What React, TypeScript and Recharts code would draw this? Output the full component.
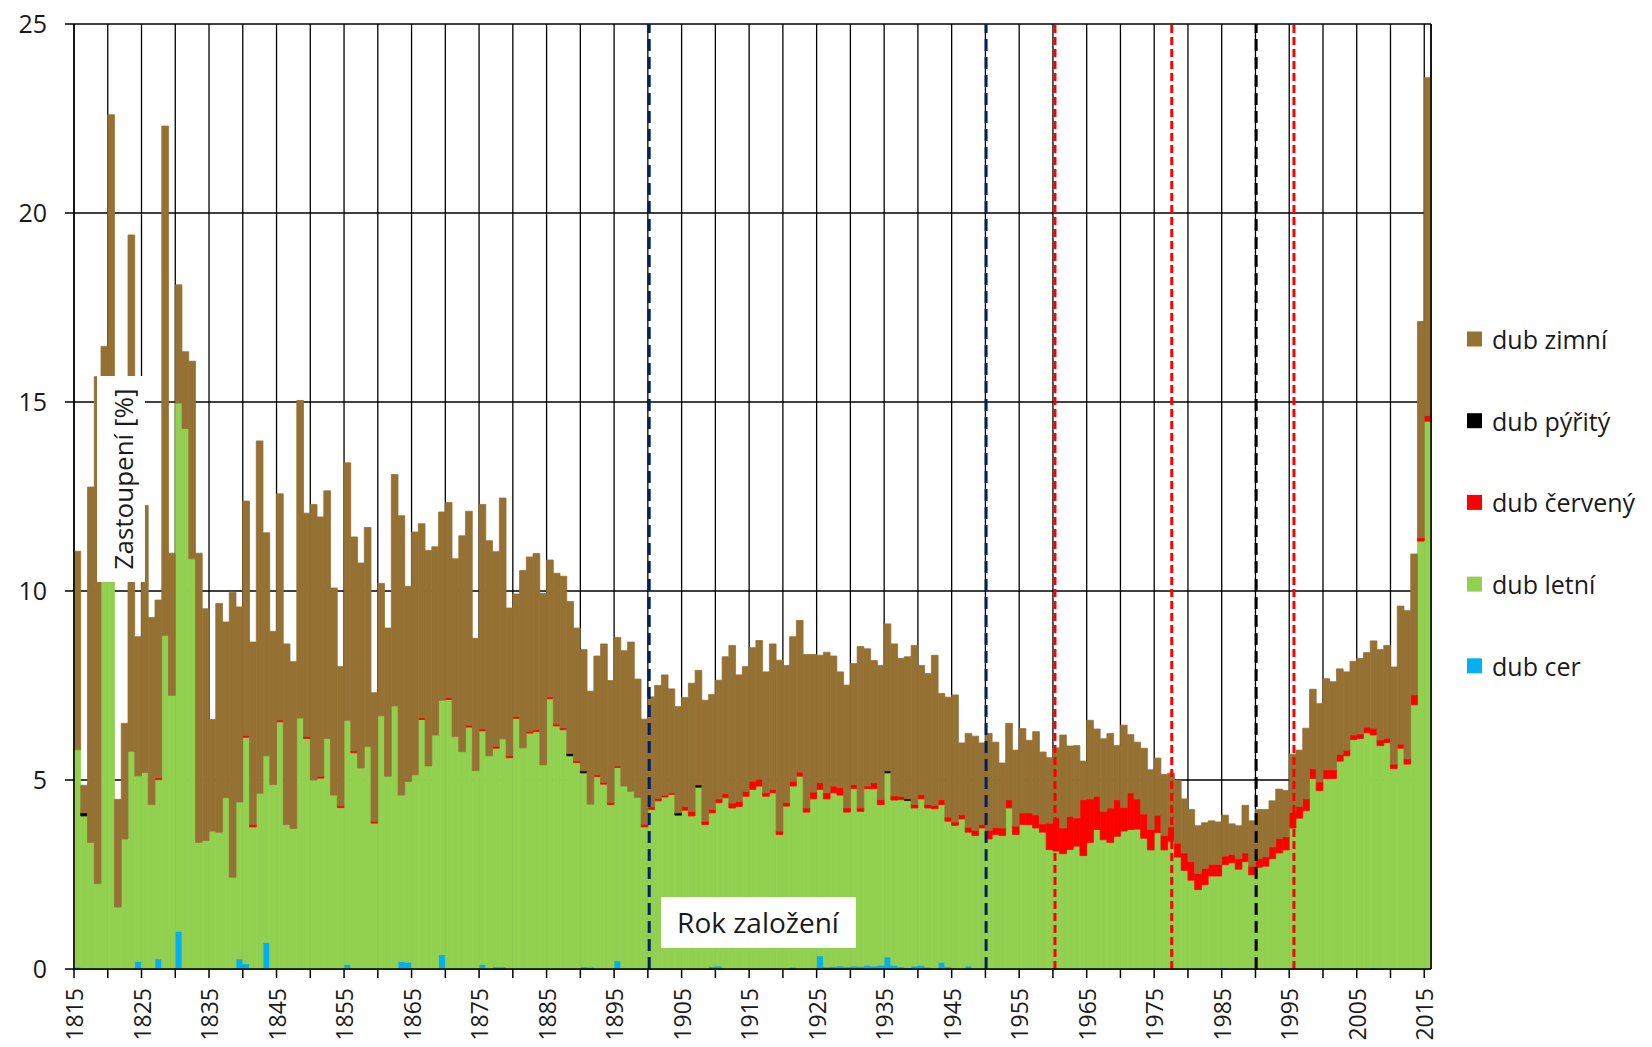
import { BarChart, Bar, XAxis, YAxis, CartesianGrid, ReferenceLine } from 'recharts'

// categories: one bar per year of founding
const firstYear = 1815
const lastYear = 2015
const years = Array.from({ length: lastYear - firstYear + 1 }, (_, i) => firstYear + i)

// dub letní [%], 1815..2015
const dubLetni = [
  5.75, 4.05, 3.35, 2.26, 10.25, 10.25, 1.64, 3.44, 5.76, 4.91,
  5.2, 4.35, 4.74, 8.82, 7.24, 13.97, 14.3, 10.85, 3.35, 3.4,
  3.65, 3.62, 4.53, 2.43, 4.15, 5.99, 3.76, 4.65, 4.94, 4.88,
  6.54, 3.82, 3.72, 6.64, 6.1, 5.0, 5.05, 6.1, 4.6, 4.27,
  6.46, 5.72, 5.32, 5.89, 3.86, 6.7, 5.1, 6.96, 4.4, 4.78,
  5.14, 6.6, 5.37, 6.19, 6.73, 7.13, 6.15, 5.75, 6.4, 5.25,
  6.18, 5.64, 5.78, 6.03, 5.59, 6.63, 5.85, 6.24, 6.28, 5.4,
  7.15, 6.43, 6.33, 5.64, 5.46, 5.13, 4.31, 5.09, 4.89, 4.35,
  5.11, 4.84, 4.7, 4.54, 3.76, 4.22, 4.45, 4.55, 4.62, 4.07,
  4.2, 4.05, 4.81, 3.82, 4.06, 4.32, 4.53, 4.26, 4.3, 4.57,
  4.75, 4.84, 4.57, 4.66, 3.56, 4.31, 4.79, 5.1, 4.15, 4.5,
  4.4, 4.44, 4.59, 4.52, 4.09, 4.69, 4.1, 4.67, 4.69, 4.25,
  4.87, 4.37, 4.42, 4.42, 4.18, 4.4, 4.21, 4.24, 4.17, 3.85,
  3.8, 3.97, 3.54, 3.53, 3.73, 3.44, 3.56, 3.53, 4.26, 3.56,
  3.82, 3.82, 3.73, 3.62, 3.16, 3.12, 3.05, 3.16, 3.25, 3.0,
  3.35, 3.69, 3.42, 3.35, 3.51, 3.65, 3.69, 3.7, 3.46, 3.15,
  3.61, 3.15, 3.38, 2.96, 2.61, 2.35, 2.1, 2.23, 2.46, 2.46,
  2.73, 2.81, 2.64, 2.84, 2.49, 2.69, 2.72, 2.92, 3.07, 3.15,
  3.73, 3.99, 4.19, 5.04, 4.72, 5.04, 5.04, 5.5, 5.64, 6.07,
  6.1, 6.25, 6.16, 5.91, 5.99, 5.3, 5.84, 5.42, 6.99, 11.32,
  14.49,
]

// dub zimní [%], 1815..2015
const dubZimni = [
  5.25, 0.73, 9.4, 13.41, 6.22, 12.35, 2.85, 3.06, 13.66, 3.68,
  7.06, 4.95, 4.7, 13.48, 3.76, 3.13, 2.03, 5.23, 7.65, 6.13,
  2.95, 6.05, 4.65, 7.54, 5.16, 6.2, 4.83, 9.32, 5.9, 4.05,
  5.98, 4.78, 4.41, 8.4, 5.91, 7.29, 6.86, 6.55, 5.48, 3.68,
  6.81, 5.66, 5.42, 5.79, 3.4, 3.5, 3.92, 6.12, 7.39, 5.16,
  6.42, 5.13, 5.7, 4.98, 4.98, 5.16, 4.7, 5.71, 5.66, 3.5,
  5.94, 5.69, 5.15, 6.37, 3.91, 3.24, 4.69, 4.61, 4.66, 4.54,
  3.62, 3.99, 4.01, 4.02, 3.51, 3.21, 2.99, 3.14, 3.66, 3.23,
  3.4, 3.58, 3.95, 3.13, 2.78, 2.91, 2.99, 3.18, 2.75, 2.81,
  2.88, 3.39, 3.03, 3.2, 3.04, 3.14, 3.62, 4.17, 3.35, 3.3,
  3.53, 3.67, 3.2, 3.85, 4.52, 3.63, 3.82, 4.01, 4.06, 3.64,
  3.37, 3.72, 3.44, 3.06, 3.25, 3.2, 4.27, 3.63, 3.23, 3.55,
  3.89, 4.02, 3.65, 3.76, 4.21, 3.42, 3.47, 3.97, 2.81, 3.17,
  3.36, 1.9, 2.48, 2.49, 2.16, 2.56, 2.26, 1.72, 2.02, 2.01,
  2.23, 1.92, 2.2, 1.9, 1.73, 1.85, 2.46, 1.86, 1.91, 1.02,
  2.08, 1.78, 1.92, 1.97, 1.43, 2.18, 1.54, 1.5, 1.74, 1.58,
  1.51, 1.62, 1.42, 1.66, 1.43, 1.38, 1.26, 1.21, 1.15, 1.12,
  1.08, 0.81, 0.87, 1.26, 1.2, 1.3, 1.25, 1.22, 1.31, 1.22,
  1.54, 1.49, 1.87, 2.1, 2.07, 2.41, 2.33, 2.26, 2.07, 1.95,
  2.0, 1.97, 2.31, 2.39, 2.46, 2.57, 3.65, 3.92, 3.73, 5.72,
  8.94,
]

// dub červený [%], 1815..2015
const dubCerveny = [
  0, 0, 0, 0, 0, 0, 0, 0, 0, 0,
  0, 0, 0.05, 0, 0, 0, 0, 0, 0, 0,
  0, 0, 0, 0, 0, 0.05, 0.06, 0, 0, 0,
  0.05, 0, 0, 0, 0.05, 0, 0.05, 0, 0, 0.05,
  0, 0.05, 0, 0, 0.05, 0, 0, 0, 0, 0,
  0, 0.05, 0, 0, 0, 0.05, 0, 0, 0.05, 0,
  0.05, 0, 0.05, 0, 0.05, 0.05, 0, 0.05, 0.05, 0,
  0.05, 0.05, 0.05, 0, 0.05, 0, 0, 0.05, 0.05, 0.05,
  0.04, 0, 0, 0, 0.07, 0.07, 0.06, 0.05, 0.04, 0,
  0.1, 0.12, 0, 0.09, 0.09, 0.1, 0.11, 0.13, 0.13, 0.13,
  0.22, 0.18, 0.09, 0.09, 0.09, 0.09, 0.13, 0.11, 0.11, 0.18,
  0.18, 0.16, 0.18, 0.2, 0.11, 0.11, 0.09, 0.07, 0.16, 0.13,
  0, 0.11, 0.09, 0, 0.09, 0.11, 0.09, 0.09, 0.13, 0.11,
  0.09, 0.11, 0.13, 0.14, 0.09, 0.23, 0.18, 0.2, 0.22, 0.22,
  0.31, 0.31, 0.35, 0.22, 0.7, 0.88, 0.68, 0.88, 0.75, 1.48,
  1.15, 0.88, 0.75, 0.91, 0.97, 0.62, 0.97, 0.8, 0.64, 0.54,
  0.46, 0.38, 0.38, 0.37, 0.46, 0.49, 0.43, 0.43, 0.31, 0.31,
  0.23, 0.22, 0.28, 0.23, 0.23, 0.23, 0.25, 0.31, 0.38, 0.35,
  0.41, 0.31, 0.31, 0.26, 0.23, 0.23, 0.23, 0.18, 0.15, 0.12,
  0.12, 0.15, 0.18, 0.15, 0.11, 0.12, 0.11, 0.14, 0.26, 0.09,
  0.15,
]

// dub pýřitý [%], only the few years where it appears
const dubPyrity: Record<number, number> = {
  1816: 0.08, 1888: 0.06, 1890: 0.05, 1904: 0.06, 1907: 0.06, 1935: 0.05, 1938: 0.04,
}

// dub cer [%], only the years where it appears
const dubCer: Record<number, number> = {
  1815: 0.05, 1824: 0.2, 1827: 0.27, 1830: 1.0, 1839: 0.27, 1840: 0.14, 1843: 0.7,
  1855: 0.12, 1863: 0.2, 1864: 0.18, 1869: 0.38, 1875: 0.12, 1877: 0.06, 1878: 0.06,
  1890: 0.06, 1891: 0.05, 1895: 0.22, 1909: 0.07, 1910: 0.08, 1921: 0.05, 1925: 0.35,
  1926: 0.06, 1927: 0.07, 1928: 0.08, 1929: 0.06, 1930: 0.08, 1931: 0.07, 1932: 0.1,
  1933: 0.08, 1934: 0.1, 1935: 0.32, 1936: 0.1, 1937: 0.06, 1938: 0.04, 1939: 0.08,
  1940: 0.1, 1941: 0.05, 1943: 0.18, 1944: 0.06, 1947: 0.08, 1985: 0.03, 2007: 0.03,
}

// tick labels / marker lines
const xTicks = years.filter((y) => (y - firstYear) % 5 === 0)
const yTicks = [0, 5, 10, 15, 20, 25]
const navyLines = [1900.2, 1950.1]
const redLines = [1960.3, 1977.6, 1995.7]
const blackLines = [1990.1]

const W = 1652
const H = 1047
const FONT = '"Open Sans", sans-serif'
const TEXT = '#1a1a1a'

const C = {
  zimni: '#957133',
  pyrity: '#000000',
  cerveny: '#ff0000',
  letni: '#92d050',
  cer: '#00b0f0',
}

const legendItems = [
  { label: 'dub zimní', color: C.zimni },
  { label: 'dub pýřitý', color: C.pyrity },
  { label: 'dub červený', color: C.cerveny },
  { label: 'dub letní', color: C.letni },
  { label: 'dub cer', color: C.cer },
]

const rows = years.map((year, i) => ({
  pos: year + 0.5, // bar sits between its year tick and the next
  cer: dubCer[year] ?? 0,
  letni: dubLetni[i],
  cerveny: dubCerveny[i],
  pyrity: dubPyrity[year] ?? 0,
  zimni: dubZimni[i],
}))

const series = [
  { key: 'cer', color: C.cer },
  { key: 'letni', color: C.letni },
  { key: 'cerveny', color: C.cerveny },
  { key: 'pyrity', color: C.pyrity },
  { key: 'zimni', color: C.zimni },
]

function XTick({ x, y, payload }: any) {
  if ((payload.value - firstYear) % 10 !== 0) return <g />
  return (
    <text
      transform={`translate(${x},${y + 8}) rotate(-90)`}
      textAnchor="end"
      dominantBaseline="central"
      fontSize={23}
      fontFamily={FONT}
      fill={TEXT}
    >
      {payload.value}
    </text>
  )
}

export default function App() {
  return (
    <div style={{ position: 'absolute', left: 0, top: 0, width: W, height: H, background: '#fff' }}>
      <BarChart
        width={W}
        height={H}
        data={rows}
        margin={{ top: 24, right: 221, bottom: 0, left: 0 }}
        barCategoryGap={0}
        barGap={0}
      >
        <CartesianGrid stroke="#000" strokeWidth={1.3} />
        <XAxis
          dataKey="pos"
          type="number"
          domain={[firstYear, lastYear + 1]}
          ticks={xTicks}
          interval={0}
          height={78}
          tickSize={9}
          tick={<XTick />}
          axisLine={{ stroke: '#000', strokeWidth: 1.5 }}
          tickLine={{ stroke: '#000', strokeWidth: 1.5 }}
        />
        <YAxis
          type="number"
          domain={[0, 25]}
          ticks={yTicks}
          width={74}
          tickSize={9}
          tickMargin={18}
          tick={{ fontSize: 25, fontFamily: FONT, fill: TEXT }}
          axisLine={{ stroke: '#000', strokeWidth: 1.5 }}
          tickLine={{ stroke: '#000', strokeWidth: 1.5 }}
        />
        {series.map((s) => (
          <Bar
            key={s.key}
            dataKey={s.key}
            stackId="s"
            fill={s.color}
            stroke={s.color}
            strokeWidth={0.8}
            barSize={6.7}
            isAnimationActive={false}
          />
        ))}
        <ReferenceLine x={lastYear + 1} stroke="#000" strokeWidth={1.5} />
        {navyLines.map((v) => (
          <ReferenceLine key={v} x={v} stroke="#002060" strokeWidth={3} strokeDasharray="12 6" />
        ))}
        {redLines.map((v) => (
          <ReferenceLine key={v} x={v} stroke="#ff0000" strokeWidth={3} strokeDasharray="8 4" />
        ))}
        {blackLines.map((v) => (
          <ReferenceLine key={v} x={v} stroke="#000" strokeWidth={3} strokeDasharray="12 6" />
        ))}
      </BarChart>

      <svg
        width={W}
        height={H}
        style={{ position: 'absolute', left: 0, top: 0, pointerEvents: 'none' }}
        fontFamily={FONT}
      >
        <rect x={97} y={376} width={48} height={206} fill="#fff" />
        <text
          transform="translate(123,479) rotate(-90)"
          textAnchor="middle"
          dominantBaseline="central"
          fontSize={26}
          fill={TEXT}
        >
          Zastoupení [%]
        </text>
        <rect x={661} y={897} width={195} height={51} fill="#fff" />
        <text x={758} y={922} textAnchor="middle" dominantBaseline="central" fontSize={28} fill={TEXT}>
          Rok založení
        </text>
        {legendItems.map((item, i) => {
          const cy = 339 + i * 81.7
          return (
            <g key={item.label}>
              <rect x={1467} y={cy - 7.5} width={15} height={15} fill={item.color} />
              <text x={1492} y={cy} dominantBaseline="central" fontSize={25} fill={TEXT}>
                {item.label}
              </text>
            </g>
          )
        })}
      </svg>
    </div>
  )
}
